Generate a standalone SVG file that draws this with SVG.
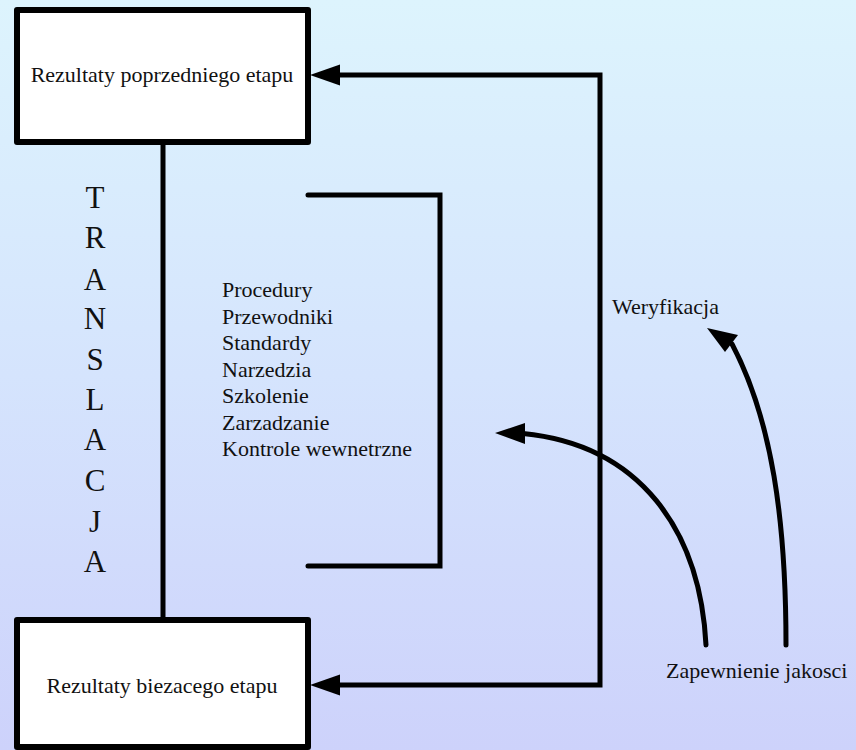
<svg xmlns="http://www.w3.org/2000/svg" width="856" height="750" viewBox="0 0 856 750">
  <defs>
    <linearGradient id="bg" x1="0" y1="0" x2="0" y2="1">
      <stop offset="0" stop-color="#ddf4fd"/>
      <stop offset="0.5" stop-color="#d5e4fd"/>
      <stop offset="1" stop-color="#cdd2fb"/>
    </linearGradient>
    <style>
      text { font-family: "Liberation Serif", "Times New Roman", serif; fill: #111; }
      .lbl { font-size: 22px; }
      .mid { text-anchor: middle; }
      .vert { font-size: 31px; text-anchor: middle; }
      .box { fill: #fff; stroke: #000; stroke-width: 6; stroke-linejoin: round; }
      .line { fill: none; stroke: #000; stroke-width: 5; }
      .head { fill: #000; stroke: none; }
    </style>
  </defs>

  <rect width="856" height="750" fill="url(#bg)"/>

  <!-- connectors -->
  <g id="connectors">
    <!-- translation link between the two stages -->
    <line class="line" x1="163" y1="145" x2="163" y2="617"/>
    <!-- verification loop -->
    <polyline class="line" points="338,75 600,75 600,685 338,685" stroke-linejoin="miter"/>
    <polygon class="head" points="310,75 340,64.5 340,85.5"/>
    <polygon class="head" points="310,685 340,674.5 340,695.5"/>
    <!-- bracket around the list -->
    <polyline class="line" points="308,195 440,195 440,566 308,566" stroke-linecap="round" stroke-linejoin="miter"/>
    <!-- quality assurance arrows -->
    <path class="line" d="M706,645 C700,530 640,445 523,433.5" stroke-linecap="round"/>
    <polygon class="head" points="495,433 525,423 525,444"/>
    <path class="line" d="M786,645 C786,520 772,420 732,344" stroke-linecap="round"/>
    <polygon class="head" points="707,328 738,335 725,352"/>
  </g>

  <g id="node-previous">
    <rect class="box" x="17" y="10" width="291" height="132"/>
    <text class="lbl mid" x="162" y="82">Rezultaty poprzedniego etapu</text>
  </g>

  <g id="node-current">
    <rect class="box" x="17" y="620" width="291" height="127"/>
    <text class="lbl mid" x="162" y="693">Rezultaty biezacego etapu</text>
  </g>

  <g id="translation">
    <text class="vert" x="95" y="208">T</text>
    <text class="vert" x="95" y="248">R</text>
    <text class="vert" x="95" y="290">A</text>
    <text class="vert" x="95" y="329">N</text>
    <text class="vert" x="95" y="370">S</text>
    <text class="vert" x="95" y="410">L</text>
    <text class="vert" x="95" y="450">A</text>
    <text class="vert" x="95" y="491">C</text>
    <text class="vert" x="95" y="532">J</text>
    <text class="vert" x="95" y="572">A</text>
  </g>

  <g id="means-list">
    <text class="lbl" x="222" y="297">Procedury</text>
    <text class="lbl" x="222" y="323.5">Przewodniki</text>
    <text class="lbl" x="222" y="350">Standardy</text>
    <text class="lbl" x="222" y="376.5">Narzedzia</text>
    <text class="lbl" x="222" y="403">Szkolenie</text>
    <text class="lbl" x="222" y="429.5">Zarzadzanie</text>
    <text class="lbl" x="222" y="456">Kontrole wewnetrzne</text>
  </g>

  <g id="verification">
    <text class="lbl" x="612" y="314">Weryfikacja</text>
  </g>

  <g id="quality-assurance">
    <text class="lbl" x="666" y="678">Zapewnienie jakosci</text>
  </g>
</svg>
